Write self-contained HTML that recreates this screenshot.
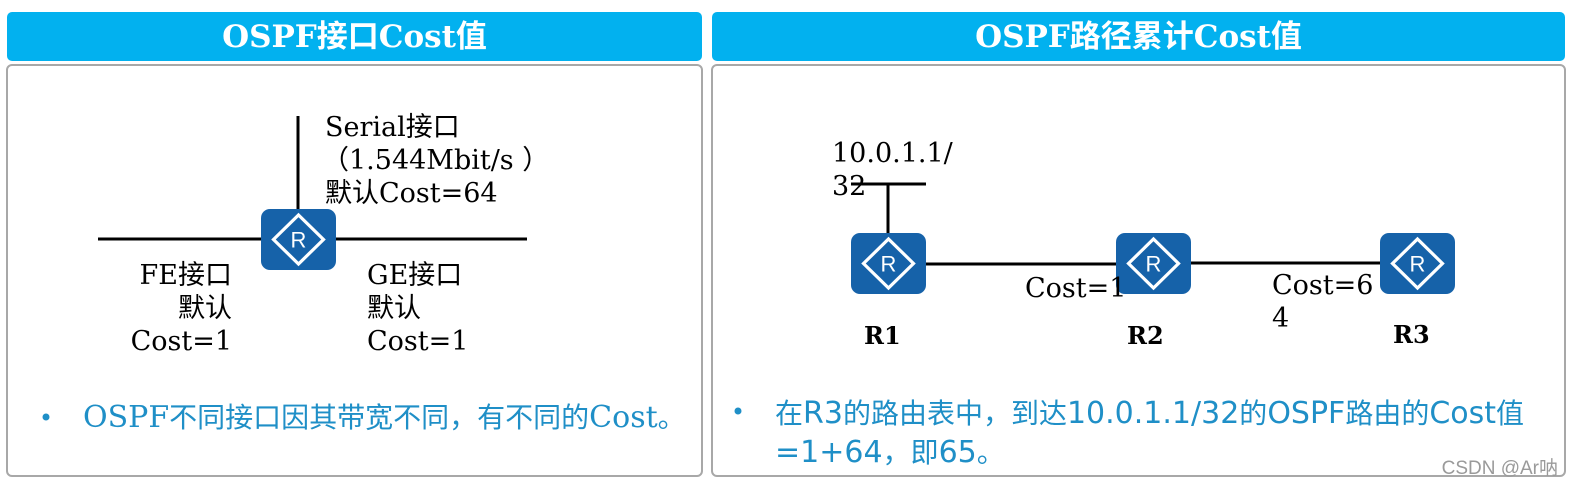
<!DOCTYPE html>
<html>
<head>
<meta charset="utf-8">
<style>
  html,body{margin:0;padding:0;background:#fff;}
  body{width:1575px;height:486px;overflow:hidden;position:relative;}
  svg{position:absolute;left:0;top:0;}
  .lbl{font-family:"DejaVu Serif","Noto Sans CJK SC",serif;font-size:27px;fill:#000;}
  .ttl{font-family:"DejaVu Serif","Noto Sans CJK SC",serif;font-size:31px;font-weight:bold;fill:#fff;}
  .rl{font-family:"DejaVu Serif","Noto Sans CJK SC",serif;font-size:24px;font-weight:bold;fill:#000;}
  .bl{font-family:"DejaVu Serif","Noto Sans CJK SC",serif;font-size:28px;fill:#1f8fc7;}
  .br{font-family:"DejaVu Sans","Noto Sans CJK SC",sans-serif;font-size:28px;fill:#1f8fc7;}
  .rt{font-family:"Liberation Sans",sans-serif;font-size:22px;fill:#fff;}
  .wm{font-family:"Liberation Sans","Noto Sans CJK SC",sans-serif;font-size:19px;fill:#9a9a9a;}
</style>
</head>
<body>
<svg width="1575" height="486" viewBox="0 0 1575 486" xmlns="http://www.w3.org/2000/svg">
  <defs>
    <g id="router">
      <rect x="0" y="0" width="75" height="61" rx="9" ry="9" fill="#1662a9"/>
      <polygon points="37.5,6 62.5,30.5 37.5,55 12.5,30.5" fill="none" stroke="#fff" stroke-width="3.2"/>
    </g>
  </defs>

  <!-- Headers -->
  <rect x="7" y="12" width="695" height="49" rx="5" ry="5" fill="#02b1ef"/>
  <rect x="712" y="12" width="853" height="49" rx="5" ry="5" fill="#02b1ef"/>
  <text class="ttl" x="354.5" y="47" text-anchor="middle">OSPF接口Cost值</text>
  <text class="ttl" x="1138.5" y="47" text-anchor="middle">OSPF路径累计Cost值</text>

  <!-- Bodies -->
  <rect x="7" y="65" width="695" height="411" rx="5" ry="5" fill="#fff" stroke="#a8a8a8" stroke-width="2"/>
  <rect x="712" y="65" width="853" height="411" rx="5" ry="5" fill="#fff" stroke="#a8a8a8" stroke-width="2"/>

  <!-- Left diagram -->
  <line x1="298" y1="116" x2="298" y2="210" stroke="#000" stroke-width="3"/>
  <line x1="98" y1="239" x2="527" y2="239" stroke="#000" stroke-width="3"/>
  <use href="#router" x="261" y="209"/>
  <text class="rt" x="298.5" y="247.5" text-anchor="middle">R</text>

  <text class="lbl" x="325" y="136">Serial接口</text>
  <text class="lbl" x="322" y="169">（1.544Mbit/s ）</text>
  <text class="lbl" x="325" y="202">默认Cost=64</text>

  <text class="lbl" x="232" y="284" text-anchor="end">FE接口</text>
  <text class="lbl" x="232" y="317" text-anchor="end">默认</text>
  <text class="lbl" x="232" y="350" text-anchor="end">Cost=1</text>

  <text class="lbl" x="367" y="284">GE接口</text>
  <text class="lbl" x="367" y="317">默认</text>
  <text class="lbl" x="367" y="350">Cost=1</text>

  <!-- Left bullet -->
  <circle cx="46" cy="417" r="3.5" fill="#1f8fc7"/>
  <text class="bl" x="83" y="427"><tspan font-size="30">OSPF</tspan>不同接口因其带宽不同，有不同的<tspan font-size="30">Cost</tspan>。</text>

  <!-- Right diagram -->
  <line x1="851" y1="184" x2="926" y2="184" stroke="#000" stroke-width="3"/>
  <line x1="888" y1="184" x2="888" y2="234" stroke="#000" stroke-width="3"/>
  <line x1="926" y1="264" x2="1116" y2="264" stroke="#000" stroke-width="3"/>
  <line x1="1191" y1="263" x2="1380" y2="263" stroke="#000" stroke-width="3"/>

  <use href="#router" x="851" y="233"/>
  <text class="rt" x="888.5" y="271.5" text-anchor="middle">R</text>
  <use href="#router" x="1116" y="233"/>
  <text class="rt" x="1153.5" y="271.5" text-anchor="middle">R</text>
  <use href="#router" x="1380" y="233"/>
  <text class="rt" x="1417.5" y="271.5" text-anchor="middle">R</text>

  <text class="lbl" x="832" y="162">10.0.1.1/</text>
  <text class="lbl" x="832" y="195">32</text>
  <text class="lbl" x="1025" y="297">Cost=1</text>
  <text class="lbl" x="1272" y="294">Cost=6</text>
  <text class="lbl" x="1272" y="327">4</text>

  <text class="rl" x="864" y="344">R1</text>
  <text class="rl" x="1127" y="344">R2</text>
  <text class="rl" x="1393" y="343">R3</text>

  <!-- Right bullet -->
  <circle cx="738" cy="411" r="3.5" fill="#1f8fc7"/>
  <text class="br" x="775" y="423">在<tspan font-size="30">R3</tspan>的路由表中，到达<tspan font-size="30">10.0.1.1/32</tspan>的<tspan font-size="30">OSPF</tspan>路由的<tspan font-size="30">Cost</tspan>值</text>
  <text class="br" x="775" y="462"><tspan font-size="30">=1+64</tspan>，即<tspan font-size="30">65</tspan>。</text>

  <!-- Watermark -->
  <text class="wm" x="1558" y="474" text-anchor="end">CSDN @Ar呐</text>
</svg>
</body>
</html>
